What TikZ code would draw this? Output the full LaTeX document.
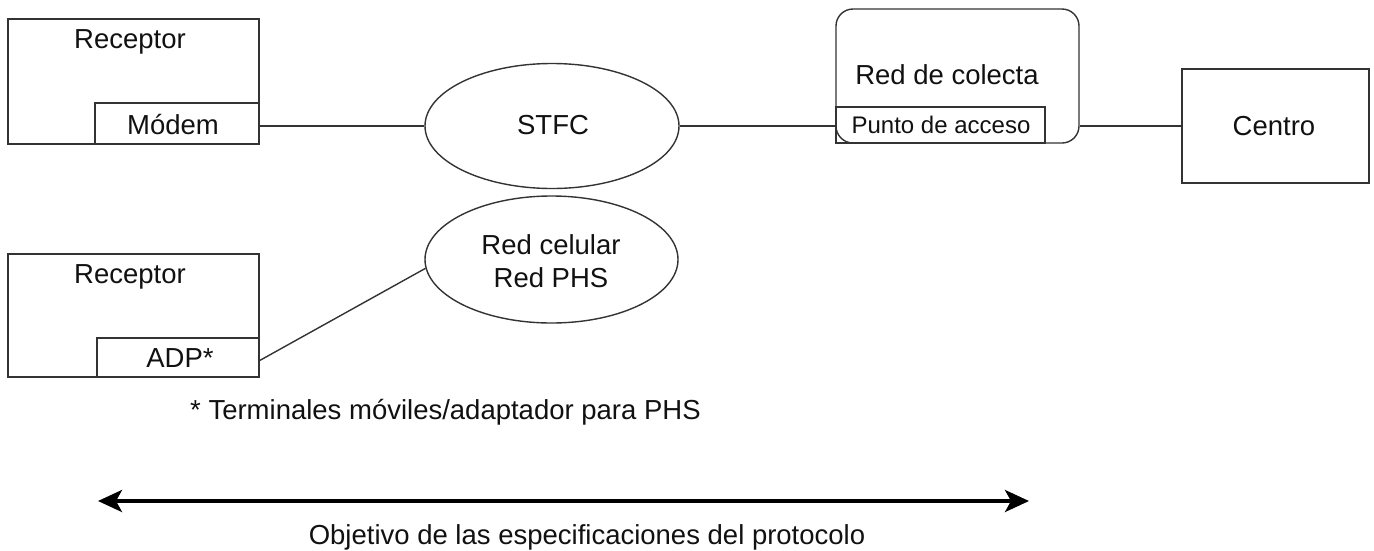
\documentclass[tikz,border=0pt]{standalone}
\usepackage{fontspec}
\setmainfont{Liberation Sans}
\usetikzlibrary{shapes.geometric,arrows.meta}
\definecolor{ln}{HTML}{333333}
\definecolor{tx}{HTML}{111111}
\tikzset{
  box/.style={draw=ln, line width=1.4pt, rectangle, inner sep=0pt},
  oval/.style={draw=ln, line width=1.4pt, ellipse, inner sep=0pt},
  lbl/.style={text=tx, inner sep=0pt, font=\fontsize{27.5}{33}\selectfont},
  small/.style={text=tx, inner sep=0pt, font=\fontsize{24}{28}\selectfont},
  conn/.style={draw=ln, line width=1.4pt},
  bigarrow/.style={draw=black, line width=3.5pt, {Stealth[length=24pt,width=22pt,inset=6pt]}-{Stealth[length=24pt,width=22pt,inset=6pt]}}
}
\begin{document}
\begin{tikzpicture}[x=1pt,y=-1pt]
\useasboundingbox (0,0) rectangle (1374,550);
% Receptor 1
\node[box, minimum width=251pt, minimum height=125pt] (rec1) at (133.5,81.5) {};
\node[box, minimum width=164pt, minimum height=41pt] (modem) at (177,123.5) {};
\node[lbl] (rec1l) at (130,42) {Receptor};
\node[lbl] (modeml) at (173,125) {Módem};
% STFC
\node[oval, minimum width=254pt, minimum height=125pt] (stfc) at (552,126) {};
\node[lbl] (stfcl) at (553,125) {STFC};
% Red de colecta
\node[box, rounded corners=17pt, minimum width=243pt, minimum height=134pt] (rc) at (957.5,76) {};
\node[box, minimum width=209pt, minimum height=36pt] (pa) at (940.5,125) {};
\node[lbl] (rcl) at (947,75) {Red de colecta};
\node[small] (pal) at (941,125) {Punto de acceso};
% Centro
\node[box, minimum width=187pt, minimum height=114pt] (centro) at (1275.5,126) {};
\node[lbl] (centrol) at (1274,126) {Centro};
% Receptor 2
\node[box, minimum width=251pt, minimum height=123pt] (rec2) at (133.5,315.5) {};
\node[box, minimum width=162pt, minimum height=39pt] (adp) at (178,357.5) {};
\node[lbl] (rec2l) at (130,277) {Receptor};
\node[lbl] (adpl) at (180,358) {ADP*};
% Red celular
\node[oval, minimum width=253pt, minimum height=127pt] (cel) at (551.5,259.5) {};
\node[lbl, align=center] (cell) at (551,261) {Red celular\\Red PHS};
% connectors
\draw[conn] (modem.east |- stfc.west) -- (stfc.west);
\draw[conn] (stfc.east) -- (pa.west |- stfc.east);
\draw[conn] (rc.east |- centro.west) -- (centro.west);
\draw[conn] ([yshift=-3pt]adp.east) -- (cel.184);
% footnote
\node[lbl, anchor=west] (foot) at (190,412) {* Terminales móviles/adaptador para PHS};
% scope arrow
\coordinate (al) at (98,501);
\coordinate (ar) at (1029,501);
\draw[bigarrow] (al) -- (ar);
\node[lbl] (cap) at (587,537) {Objetivo de las especificaciones del protocolo};
\end{tikzpicture}
\end{document}
